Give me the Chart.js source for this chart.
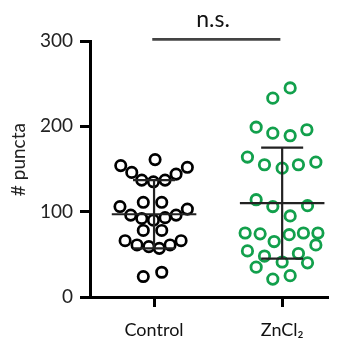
<!DOCTYPE html>
<html>
<head>
<meta charset="utf-8">
<script src="https://cdn.jsdelivr.net/npm/chart.js@4/dist/chart.umd.min.js"></script>
<style>
  html,body{margin:0;padding:0;background:#fff;}
  canvas{display:block;}
</style>
</head>
<body>
<canvas id="c" width="345" height="347"></canvas>
<script>
// groups on the x axis
const groups = ['Control', 'ZnCl\u2082'];

// # puncta per cell
const controlVals = [161,154,146,137,135,137,144,152, 106,111,111,103,96,92,90,93,96, 78,78,66,61,59,57,61,66, 24,29];
// horizontal scatter of each dot, in group units
const controlJitter = [0.008,-0.26,-0.174,-0.096,-0.005,0.086,0.172,0.26, -0.266,-0.084,0.06,0.26,-0.182,-0.096,-0.005,0.086,0.172, -0.084,0.06,-0.226,-0.133,-0.041,0.041,0.125,0.211, -0.084,0.06];

const zncl2Vals = [245,233, 199,192,189,196, 164,155,151,155,158, 114,106,107,95, 75,74,65,73,75,75, 54,48,41,51,61, 35,40,21,25];
const zncl2Jitter = [0.0625,-0.073, -0.203,-0.073,0.0625,0.193, -0.271,-0.138,0,0.127,0.263, -0.203,-0.073,0.198,0.0625, -0.289,-0.172,-0.0625,0.055,0.166,0.279, -0.271,-0.138,0,0.127,0.263, -0.203,0.198,-0.073,0.0625];

// mean and SD drawn as bars
const means = [97, 110];
const sds = [40, 65];

const yTicks = [0, 100, 200, 300];
const yTitle = '# puncta';
const sigLabel = 'n.s.';
const sigLevel = 302;

const FONT = 'Lato, "Open Sans", sans-serif';

function pts(vals, jit, g){ return vals.map((v,i)=>({x: g + jit[i], y: v})); }

const meanSd = {
  id: 'meanSd',
  afterDatasetsDraw(chart){
    const {ctx, scales:{x, y}} = chart;
    ctx.save();
    ctx.strokeStyle = '#222'; ctx.lineWidth = 2.2; ctx.lineCap = 'butt';
    means.forEach((m,i)=>{
      const g = i + 1;
      const xc = x.getPixelForValue(g);
      const yTop = y.getPixelForValue(m + sds[i]), yBot = y.getPixelForValue(m - sds[i]), yM = y.getPixelForValue(m);
      ctx.beginPath();
      ctx.moveTo(x.getPixelForValue(g - 0.33), yM); ctx.lineTo(x.getPixelForValue(g + 0.33), yM);
      ctx.moveTo(xc, yTop); ctx.lineTo(xc, yBot);
      ctx.moveTo(x.getPixelForValue(g - 0.164), yTop); ctx.lineTo(x.getPixelForValue(g + 0.164), yTop);
      ctx.moveTo(x.getPixelForValue(g - 0.164), yBot); ctx.lineTo(x.getPixelForValue(g + 0.164), yBot);
      ctx.stroke();
    });
    // significance bar
    const yb = y.getPixelForValue(sigLevel);
    ctx.strokeStyle = '#444'; ctx.lineWidth = 2.8;
    ctx.beginPath();
    ctx.moveTo(x.getPixelForValue(0.986), yb); ctx.lineTo(x.getPixelForValue(1.986), yb);
    ctx.stroke();
    ctx.fillStyle = '#111';
    ctx.font = '23px ' + FONT;
    ctx.textAlign = 'center'; ctx.textBaseline = 'alphabetic';
    ctx.fillText(sigLabel, x.getPixelForValue(1.46), yb - 12);
    // y axis title, a bit above the axis middle as in the original
    ctx.translate(y.left + 19, y.getPixelForValue(161));
    ctx.rotate(-Math.PI / 2);
    ctx.fillStyle = '#222';
    ctx.font = '19px ' + FONT;
    ctx.textBaseline = 'middle';
    ctx.fillText(yTitle, 0, 0);
    ctx.restore();
  }
};

new Chart(document.getElementById('c'), {
  type: 'scatter',
  data: {
    datasets: [
      { label: groups[0], data: pts(controlVals, controlJitter, 1), borderColor: '#000', backgroundColor: 'rgba(255,255,255,0)', pointRadius: 5.2, pointBorderWidth: 2.7, pointHoverRadius: 5 },
      { label: groups[1], data: pts(zncl2Vals, zncl2Jitter, 2), borderColor: '#12a04c', backgroundColor: 'rgba(255,255,255,0)', pointRadius: 5.2, pointBorderWidth: 2.8, pointHoverRadius: 5 }
    ]
  },
  options: {
    responsive: false,
    animation: false,
    devicePixelRatio: 1,
    layout: { padding: { top: 41, right: 18, left: 0, bottom: 0 } },
    plugins: { legend: { display: false }, tooltip: { enabled: false } },
    scales: {
      x: {
        type: 'linear', min: 0.5, max: 2.35,
        afterBuildTicks: s => { s.ticks = [{value: 1}, {value: 2}]; },
        afterFit: s => { s.height = 50; },
        ticks: { callback: v => groups[v - 1], color: '#111', font: { family: FONT, size: 18 }, padding: 12 },
        grid: { drawOnChartArea: false, tickLength: 10, lineWidth: 3, color: '#000' },
        border: { width: 3, color: '#000' }
      },
      y: {
        min: 0, max: 300,
        afterBuildTicks: s => { s.ticks = yTicks.map(v => ({value: v})); },
        afterFit: s => { s.width = 90; },
        ticks: { color: '#222', font: { family: FONT, size: 19 }, padding: 7 },
        grid: { drawOnChartArea: false, tickLength: 10, lineWidth: 3, color: '#000' },
        border: { width: 3, color: '#000' }
      }
    }
  },
  plugins: [meanSd]
});
</script>
</body>
</html>
